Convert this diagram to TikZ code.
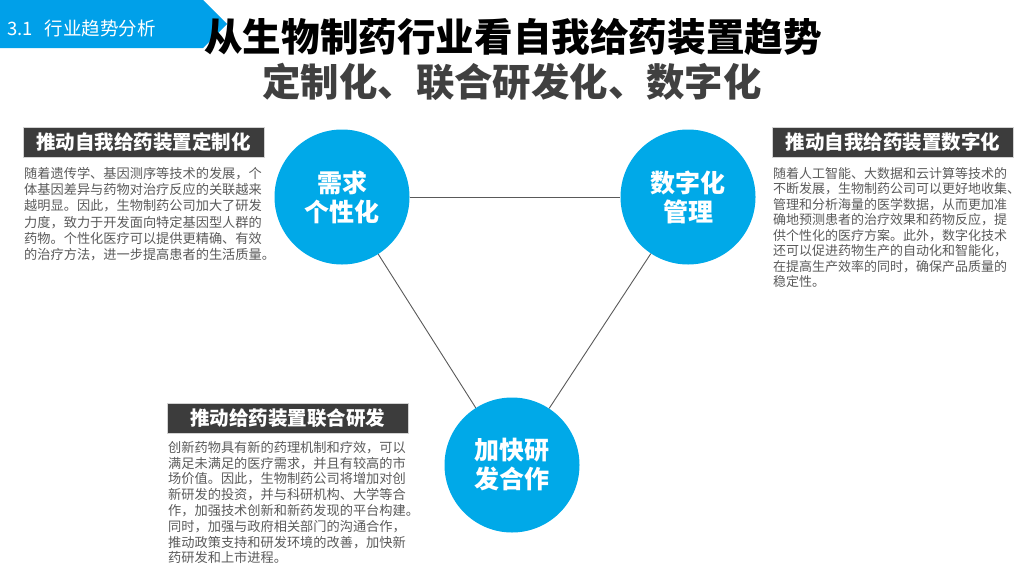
\documentclass[tikz,border=0pt]{standalone}
\usepackage{fontspec}
\setmainfont{Noto Sans CJK SC}
\usetikzlibrary{positioning}
\definecolor{tabblue}{RGB}{0,160,233}
\definecolor{ballblue}{RGB}{0,169,232}
\definecolor{headgray}{RGB}{60,60,60}
\definecolor{bodygray}{RGB}{90,90,90}
\definecolor{subgray}{RGB}{64,64,64}
\tikzset{
	ball/.style={circle, fill=ballblue, minimum size=135pt, inner sep=0pt, text=white, align=center, font=\fontsize{25}{29}\selectfont\bfseries},
	headbar/.style={fill=headgray, draw=gray!35, text=white, minimum width=241pt, minimum height=30pt, inner sep=0pt, font=\fontsize{19.5}{21}\selectfont\bfseries},
	bodytext/.style={anchor=north west, text=bodygray, align=left, inner sep=0pt, font=\fontsize{13.2}{16.2}\selectfont},
	link/.style={draw=black!65, line width=0.9pt}
}

\begin{document}
\begin{tikzpicture}[x=1pt, y=-1pt]
		\useasboundingbox (0,0) rectangle (1024,576);
		
		% tab and title
		\fill[tabblue] (0,0) -- (203,0) -- (227,24) -- (203,48) -- (0,48) -- cycle;
		\node[anchor=west, text=white, inner sep=0pt, font=\fontsize{18.5}{20}\selectfont] (tab) at (7,28) {3.1\hspace{12pt}行业趋势分析};
		\node[font=\fontsize{38.6}{40}\selectfont\bfseries] (title) at (513,37) {从生物制药行业看自我给药装置趋势};
		\node[text=subgray, font=\fontsize{38.4}{40}\selectfont\bfseries] (subtitle) at (512,82) {定制化、联合研发化、数字化};
		
		% circles
		\node[ball] (need) at (342,197) {需求\\个性化};
		\node[ball] (digit) at (688,197) {数字化\\管理};
		\node[ball] (joint) at (512,465) {加快研\\发合作};
		
		\path[]
		(need) edge[link] (digit)
		(need) edge[link] (joint)
		(digit) edge[link] (joint);
		
		% left box
		\node[headbar] (headL) at (143.5,142.5) {推动自我给药装置定制化};
		\node[bodytext] (bodyL) at (24,167) {随着遗传学、基因测序等技术的发展，个\\体基因差异与药物对治疗反应的关联越来\\越明显。因此，生物制药公司加大了研发\\力度，致力于开发面向特定基因型人群的\\药物。个性化医疗可以提供更精确、有效\\的治疗方法，进一步提高患者的生活质量。};
		
		% right box
		\node[headbar] (headR) at (893,142.5) {推动自我给药装置数字化};
		\node[bodytext, font=\fontsize{13}{15.5}\selectfont] (bodyR) at (773,167) {随着人工智能、大数据和云计算等技术的\\不断发展，生物制药公司可以更好地收集、\\管理和分析海量的医学数据，从而更加准\\确地预测患者的治疗效果和药物反应，提\\供个性化的医疗方案。此外，数字化技术\\还可以促进药物生产的自动化和智能化，\\在提高生产效率的同时，确保产品质量的\\稳定性。};
		
		% bottom box
		\node[headbar] (headB) at (287.5,418.5) {推动给药装置联合研发};
		\node[bodytext, font=\fontsize{13.2}{15.8}\selectfont] (bodyB) at (168,441) {创新药物具有新的药理机制和疗效，可以\\满足未满足的医疗需求，并且有较高的市\\场价值。因此，生物制药公司将增加对创\\新研发的投资，并与科研机构、大学等合\\作，加强技术创新和新药发现的平台构建。\\同时，加强与政府相关部门的沟通合作，\\推动政策支持和研发环境的改善，加快新\\药研发和上市进程。};
	\end{tikzpicture}
\end{document}
